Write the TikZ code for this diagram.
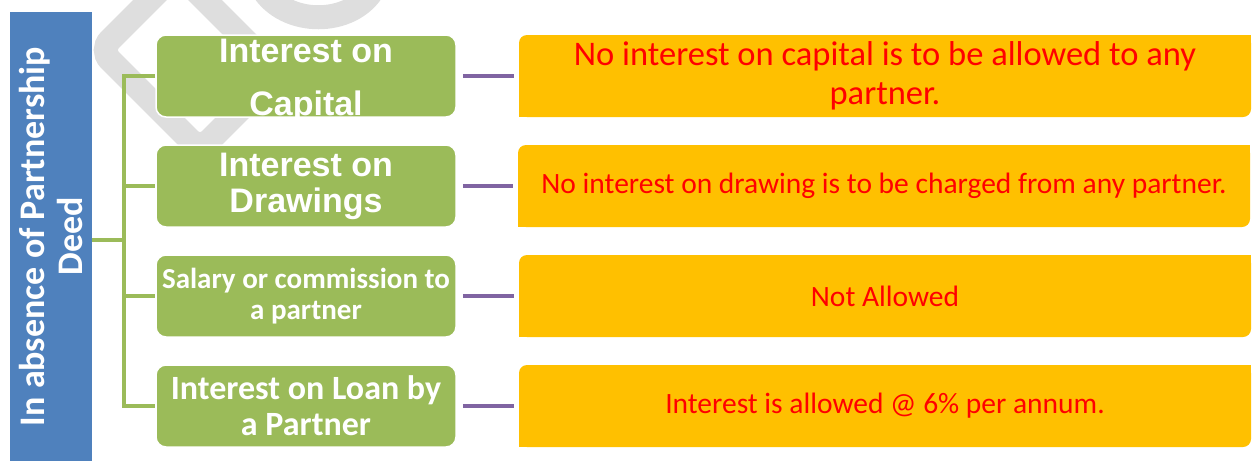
\documentclass[tikz,border=0pt]{standalone}
\usepackage{fontspec}
\setmainfont{Carlito}
\newfontfamily\arialfont{Liberation Sans}

\definecolor{deedblue}{HTML}{4F81BD}
\definecolor{headgreen}{HTML}{9BBB59}
\definecolor{ruleamber}{HTML}{FFC000}
\definecolor{linkpurple}{HTML}{8064A2}
\definecolor{logogray}{HTML}{DEDEDE}

\begin{document}
\begin{tikzpicture}[x=1pt,y=-1pt,
  deedbar/.style={fill=deedblue,text=white,minimum width=449,minimum height=82,inner sep=0pt,align=center,font=\bfseries\fontsize{36}{38}\selectfont},
  head/.style={fill=headgreen,draw=white,line width=1.5pt,rounded corners=10pt,minimum width=300,minimum height=82,inner sep=0pt,text=white,align=center},
  rule/.style={fill=ruleamber,rounded corners=8pt,minimum width=732,minimum height=82,inner sep=0pt,text=red,align=center,font=\fontsize{29.5}{36}\selectfont},
  stem/.style={draw=headgreen,line width=3.5pt},
  link/.style={draw=linkpurple,line width=4pt,shorten <=6pt,shorten >=5pt},
  logoband/.style={draw=logogray,line width=24pt,rounded corners=14pt}]
\useasboundingbox (0,0) rectangle (1252,461);
\begin{scope}
\clip (0,0) rectangle (1252,461);
\draw[logoband] (100,50) -- (177.5,-27.5) -- (277.5,72.5) -- (200,150) -- cycle;
\draw[logoband] (262,-12) .. controls (285,27) and (352,27) .. (374,-12);
\end{scope}

\node[deedbar,rotate=90] (deed) at (51,236.5) {In absence of Partnership\\Deed};

\node[head,inner ysep=-7pt,font=\arialfont\bfseries\fontsize{34}{53}\selectfont] (h1) at (306,76) {\rule{0pt}{33pt}Interest on\\Capital};
\node[head,font=\arialfont\bfseries\fontsize{34}{36}\selectfont] (h2) at (306,186) {Interest on\\Drawings};
\node[head,font=\bfseries\fontsize{29}{31}\selectfont] (h3) at (306,296) {Salary or commission to\\a partner};
\node[head,font=\bfseries\fontsize{34}{36}\selectfont] (h4) at (306,406) {Interest on Loan by\\a Partner};

\node[rule,font=\fontsize{34.5}{39}\selectfont] (r1) at (885,76) {No interest on capital is to be allowed to any\\partner.};
\node[rule] (r2) at (884,186) {No interest on drawing is to be charged from any partner.};
\node[rule] (r3) at (885,296) {Not Allowed};
\node[rule] (r4) at (885,406) {Interest is allowed @ 6\% per annum.};
\foreach \i in {1,...,4} {
  \fill[ruleamber] (r\i.north east) rectangle ++(-10,10);
  \fill[ruleamber] (r\i.south west) rectangle ++(10,-10);
}

\coordinate (hub) at (124,240);
\draw[stem] (deed.south |- hub) -- (hub);
\draw[stem] (h1.west) -| (hub |- h4.west) -- (h4.west);
\draw[stem] (hub |- h2.west) -- (h2.west);
\draw[stem] (hub |- h3.west) -- (h3.west);

\foreach \i in {1,...,4}
  \draw[link] (h\i.east) -- (r\i.west);
\end{tikzpicture}
\end{document}
